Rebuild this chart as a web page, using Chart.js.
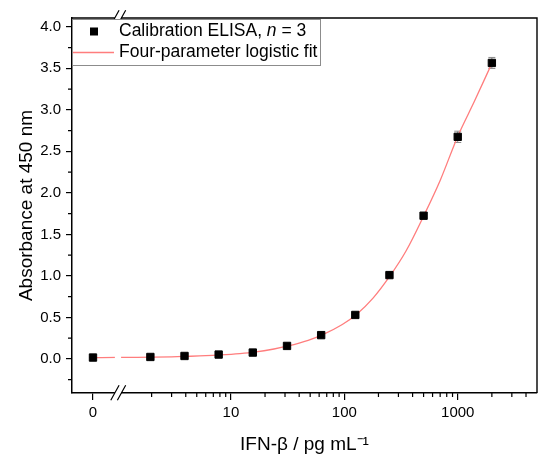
<!DOCTYPE html>
<html>
<head>
<meta charset="utf-8">
<script src="https://cdn.jsdelivr.net/npm/chart.js@4.4.1/dist/chart.umd.min.js"></script>
<style>
  html, body { margin: 0; padding: 0; background: #fff; }
  #wrap { width: 550px; height: 465px; }
</style>
</head>
<body>
<div id="wrap"><canvas id="chart" width="550" height="465"></canvas></div>
<script>
// calibration points (pg/mL) and mean absorbance, n = 3
const concentrations = [0, 1.95, 3.9, 7.8, 15.6, 31.25, 62.5, 125, 250, 500, 1000, 2000];
const absorbance = [0.017, 0.024, 0.036, 0.053, 0.077, 0.157, 0.287, 0.53, 1.01, 1.725, 2.675, 3.565];
const absorbanceSd = [0.004, 0.004, 0.005, 0.006, 0.006, 0.008, 0.01, 0.012, 0.015, 0.02, 0.068, 0.066];

// 4PL fit curve
const fitConc = [0, 1, 1.5, 2, 3, 4, 6, 8, 12, 16, 24, 32, 48, 64, 96, 128, 180, 250, 350, 500, 700, 1000, 1400, 2000];
const fitAbs = [0.016, 0.018, 0.02, 0.022, 0.026, 0.031, 0.039, 0.048, 0.065, 0.082, 0.12, 0.157, 0.225, 0.29, 0.415, 0.535, 0.735, 0.99, 1.3, 1.72, 2.15, 2.68, 3.1, 3.56];

const xTickValues = [0, 10, 100, 1000];
const xTickLabels = ['0', '10', '100', '1000'];
const xMinorValues = [2, 3, 4, 5, 6, 7, 8, 9, 20, 30, 40, 50, 60, 70, 80, 90,
  200, 300, 400, 500, 600, 700, 800, 900, 2000, 3000, 4000];
const yTickValues = [0, 0.5, 1, 1.5, 2, 2.5, 3, 3.5, 4];
const yMinorValues = [-0.25, 0.25, 0.75, 1.25, 1.75, 2.25, 2.75, 3.25, 3.75];

const FONT = "'Liberation Sans', Arial, sans-serif";
const ZERO_AT = -0.216;   // where "0" sits on the broken log axis (log10 units)
const BREAK_AT = 0;       // axis break at 1 pg/mL

function xPos(c) { return c === 0 ? ZERO_AT : Math.log10(c); }

const decorations = {
  id: 'decorations',
  beforeDatasetsDraw(chart) {
    const { ctx, scales: { x, y } } = chart;
    ctx.save();
    ctx.strokeStyle = '#8a8a8a';
    ctx.lineWidth = 1;
    concentrations.forEach((c, i) => {
      const px = x.getPixelForValue(xPos(c));
      const hi = y.getPixelForValue(absorbance[i] + absorbanceSd[i]);
      const lo = y.getPixelForValue(absorbance[i] - absorbanceSd[i]);
      ctx.beginPath();
      ctx.moveTo(px, hi); ctx.lineTo(px, lo);
      ctx.moveTo(px - 3.5, hi); ctx.lineTo(px + 3.5, hi);
      ctx.moveTo(px - 3.5, lo); ctx.lineTo(px + 3.5, lo);
      ctx.stroke();
    });
    ctx.restore();
  },
  afterDatasetsDraw(chart) {
    const { ctx, chartArea: a, scales: { x, y } } = chart;
    ctx.save();
    ctx.strokeStyle = '#000';

    // top and right frame
    ctx.lineWidth = 1.4;
    ctx.beginPath();
    ctx.moveTo(a.left, a.top); ctx.lineTo(a.right, a.top); ctx.lineTo(a.right, a.bottom);
    ctx.stroke();

    // minor ticks
    ctx.lineWidth = 1.2;
    ctx.beginPath();
    xMinorValues.forEach(v => {
      const px = x.getPixelForValue(xPos(v));
      ctx.moveTo(px, a.bottom); ctx.lineTo(px, a.bottom + 4);
    });
    yMinorValues.forEach(v => {
      const py = y.getPixelForValue(v);
      ctx.moveTo(a.left, py); ctx.lineTo(a.left - 4, py);
    });
    ctx.stroke();

    // axis break
    const bx = x.getPixelForValue(BREAK_AT);
    ctx.fillStyle = '#fff';
    ctx.fillRect(bx - 2.6, a.top - 2, 6.2, a.bottom - a.top + 4);
    ctx.lineWidth = 1.2;
    [a.top, a.bottom].forEach(by => {
      ctx.beginPath();
      ctx.moveTo(bx - 6.7, by + 7.3); ctx.lineTo(bx + 1.6, by - 7.7);
      ctx.moveTo(bx - 0.1, by + 7.3); ctx.lineTo(bx + 8.2, by - 7.7);
      ctx.stroke();
    });

    // legend box
    const lx = a.left, ly = 19.5, lw = 248, lh = 46;
    ctx.fillStyle = '#fff';
    ctx.fillRect(lx + 1, ly, lw - 1, lh);
    ctx.strokeStyle = '#8c8c8c';
    ctx.lineWidth = 1;
    ctx.strokeRect(lx + 0.5, ly, lw, lh);

    const row1 = ly + 12, row2 = ly + 33;
    ctx.fillStyle = '#000';
    ctx.fillRect(lx + 18, row1 - 4, 8, 8);
    ctx.strokeStyle = '#ff7d7d';
    ctx.lineWidth = 1.3;
    ctx.beginPath();
    ctx.moveTo(lx + 1, row2); ctx.lineTo(lx + 42, row2);
    ctx.stroke();

    ctx.textBaseline = 'middle';
    ctx.fillStyle = '#000';
    let tx = lx + 47;
    ctx.font = '17.5px ' + FONT;
    ctx.fillText('Calibration ELISA, ', tx, row1);
    tx += ctx.measureText('Calibration ELISA, ').width;
    ctx.font = 'italic 17.5px ' + FONT;
    ctx.fillText('n', tx, row1);
    tx += ctx.measureText('n').width;
    ctx.font = '17.5px ' + FONT;
    ctx.fillText(' = 3', tx, row1);
    ctx.fillText('Four-parameter logistic fit', lx + 47, row2);
    ctx.restore();
  }
};

new Chart(document.getElementById('chart'), {
  data: {
    datasets: [
      {
        type: 'line',
        label: 'Four-parameter logistic fit',
        data: fitConc.map((c, i) => ({ x: xPos(c), y: fitAbs[i] })),
        borderColor: '#ff7d7d',
        borderWidth: 1.3,
        pointRadius: 0,
        cubicInterpolationMode: 'monotone',
        order: 2
      },
      {
        type: 'scatter',
        label: 'Calibration ELISA, n = 3',
        data: concentrations.map((c, i) => ({ x: xPos(c), y: absorbance[i] })),
        pointStyle: 'rect',
        pointRadius: 5.2,
        pointBackgroundColor: '#000',
        pointBorderColor: '#000',
        pointBorderWidth: 1,
        order: 1
      }
    ]
  },
  options: {
    responsive: false,
    animation: false,
    devicePixelRatio: 1,
    layout: { padding: { top: 18, right: 13, left: 0, bottom: 0 } },
    plugins: { legend: { display: false }, tooltip: { enabled: false } },
    scales: {
      x: {
        type: 'linear',
        min: -0.401,
        max: Math.log10(5000),
        afterBuildTicks: s => { s.ticks = xTickValues.map(v => ({ value: xPos(v) })); },
        afterFit: s => { s.height = 72; },
        ticks: {
          callback: (v, i) => xTickLabels[i],
          color: '#000',
          font: { family: FONT, size: 15 },
          padding: 4,
          maxRotation: 0,
          autoSkip: false
        },
        grid: { drawOnChartArea: false, color: '#000', tickLength: 7, lineWidth: 1.2 },
        border: { color: '#000', width: 1.5 },
        title: {
          display: true,
          text: 'IFN-β / pg mL⁻¹',
          color: '#000',
          font: { family: FONT, size: 19 },
          padding: { top: 0, bottom: 9 }
        }
      },
      y: {
        type: 'linear',
        min: -0.41,
        max: 4.106,
        afterBuildTicks: s => { s.ticks = yTickValues.map(v => ({ value: v })); },
        afterFit: s => { s.width = 72; },
        ticks: {
          callback: v => v.toFixed(1),
          color: '#000',
          font: { family: FONT, size: 15 },
          padding: 5
        },
        grid: { drawOnChartArea: false, color: '#000', tickLength: 6, lineWidth: 1.2 },
        border: { color: '#000', width: 1.5 },
        title: {
          display: true,
          text: 'Absorbance at 450 nm',
          color: '#000',
          font: { family: FONT, size: 19 },
          padding: { top: 15, bottom: 0 }
        }
      }
    }
  },
  plugins: [decorations]
});
</script>
</body>
</html>
